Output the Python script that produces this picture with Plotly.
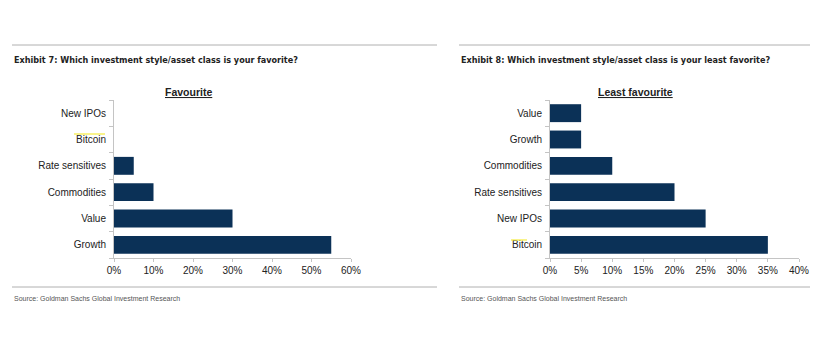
import plotly.graph_objects as go

# Survey results, listed bottom-to-top as drawn
fav_categories = ["Growth", "Value", "Commodities", "Rate sensitives", "Bitcoin", "New IPOs"]
fav_values = [55, 30, 10, 5, 0, 0]

least_categories = ["Bitcoin", "New IPOs", "Rate sensitives", "Commodities", "Growth", "Value"]
least_values = [35, 25, 20, 10, 5, 5]

fav_ticks = [0, 10, 20, 30, 40, 50, 60]
least_ticks = [0, 5, 10, 15, 20, 25, 30, 35, 40]

W, H = 824, 342
BAR = "#0b3157"
AXIS = "#c4c4c4"
TEXT = "#222222"
LABEL_FONT = "Liberation Sans, Arial, sans-serif"
TITLE_FONT = "Liberation Sans Narrow, Arial Narrow, DejaVu Sans Condensed, sans-serif"


def px(x):
    return x / W


def py(y):
    return 1 - y / H


def pct(vals):
    return [f"{v}%" for v in vals]


fig = go.Figure()
fig.add_trace(go.Bar(y=fav_categories, x=fav_values, orientation="h",
                     marker=dict(color=BAR, line=dict(width=0)),
                     xaxis="x", yaxis="y", hoverinfo="skip"))
fig.add_trace(go.Bar(y=least_categories, x=least_values, orientation="h",
                     marker=dict(color=BAR, line=dict(width=0)),
                     xaxis="x2", yaxis="y2", hoverinfo="skip"))

y_dom = [py(258), py(100)]

xaxis_common = dict(showline=True, linecolor=AXIS, linewidth=1, ticks="outside",
                    ticklen=3, tickcolor=AXIS, showgrid=False, zeroline=False,
                    tickfont=dict(family=LABEL_FONT, size=10, color=TEXT),
                    fixedrange=True, automargin=False)
yaxis_common = dict(showline=True, linecolor=AXIS, linewidth=1, ticks="outside",
                    ticklen=4, tickcolor=AXIS, tickson="boundaries", showgrid=False,
                    zeroline=False, tickfont=dict(family=LABEL_FONT, size=10, color=TEXT),
                    fixedrange=True, automargin=False, ticklabelstandoff=5)

fig.update_layout(
    width=W, height=H,
    margin=dict(l=0, r=0, t=0, b=0),
    paper_bgcolor="white", plot_bgcolor="white",
    showlegend=False, bargap=0.32,
    xaxis=dict(domain=[px(114), px(351)], range=[0, 60], tickvals=fav_ticks,
               ticktext=pct(fav_ticks), anchor="y", **xaxis_common),
    yaxis=dict(domain=y_dom, anchor="x", categoryorder="array",
               categoryarray=fav_categories, **yaxis_common),
    xaxis2=dict(domain=[px(550), px(799)], range=[0, 40], tickvals=least_ticks,
                ticktext=pct(least_ticks), anchor="y2", **xaxis_common),
    yaxis2=dict(domain=y_dom, anchor="x2", categoryorder="array",
                categoryarray=least_categories, **yaxis_common),
)

# Horizontal rules framing each exhibit
rules = [(12, 437, 45), (459, 810, 45), (12, 437, 287), (459, 810, 287)]
for x0, x1, y in rules:
    fig.add_shape(type="line", xref="paper", yref="paper",
                  x0=px(x0), x1=px(x1), y0=py(y), y1=py(y),
                  line=dict(color="#b0b0b0", width=1))

# Yellow highlighter marks over the "Bitcoin" labels
for x0, x1, y in [(74, 105, 134), (511, 527, 240)]:
    fig.add_shape(type="line", xref="paper", yref="paper",
                  x0=px(x0), x1=px(x1), y0=py(y), y1=py(y),
                  line=dict(color="rgba(245,235,60,0.8)", width=1.5))

annotations = [
    dict(x=px(12), y=py(60), text="<b>Exhibit 7: Which investment style/asset class is your favorite?</b>",
         xanchor="left", font=dict(family=TITLE_FONT, size=9, color=TEXT)),
    dict(x=px(459), y=py(60), text="<b>Exhibit 8: Which investment style/asset class is your least favorite?</b>",
         xanchor="left", font=dict(family=TITLE_FONT, size=9, color=TEXT)),
    dict(x=px(188), y=py(92), text="<b><u>Favourite</u></b>",
         xanchor="center", font=dict(family=LABEL_FONT, size=10.5, color=TEXT)),
    dict(x=px(635), y=py(92), text="<b><u>Least favourite</u></b>",
         xanchor="center", font=dict(family=LABEL_FONT, size=10.5, color=TEXT)),
    dict(x=px(12), y=py(298), text="Source: Goldman Sachs Global Investment Research",
         xanchor="left", font=dict(family=LABEL_FONT, size=7, color="#555555")),
    dict(x=px(459), y=py(298), text="Source: Goldman Sachs Global Investment Research",
         xanchor="left", font=dict(family=LABEL_FONT, size=7, color="#555555")),
]
for a in annotations:
    fig.add_annotation(xref="paper", yref="paper", yanchor="middle", showarrow=False, **a)

fig.write_html("out.html")
